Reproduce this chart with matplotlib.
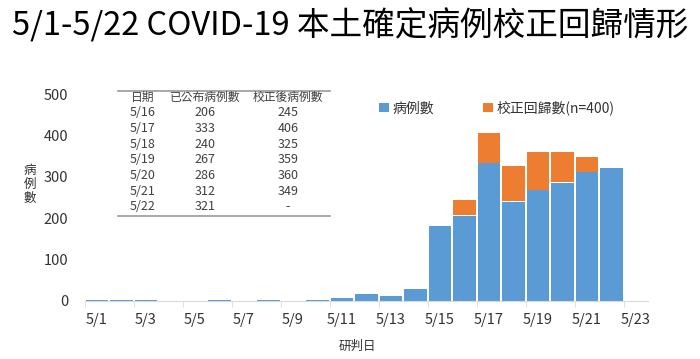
import matplotlib.pyplot as plt

plt.rcParams['font.family'] = ['Noto Sans CJK TC', 'DejaVu Sans']

# categories: 5/1 .. 5/23 (5/23 has no data)
days = ['5/%d' % d for d in range(1, 24)]
cases = [3, 3, 3, 0, 0, 3, 0, 3, 0, 2, 7, 17, 12, 29,
         180, 206, 333, 240, 267, 286, 312, 321]
backlog = [0, 0, 0, 0, 0, 0, 0, 0, 0, 0, 0, 0, 0, 0,
           0, 39, 73, 85, 92, 74, 37, 0]

tbl_header = ['日期', '已公布病例數', '校正後病例數']
tbl_dates = ['5/16', '5/17', '5/18', '5/19', '5/20', '5/21', '5/22']
tbl_published = ['206', '333', '240', '267', '286', '312', '321']
tbl_corrected = ['245', '406', '325', '359', '360', '349', '-']

BLUE = '#5b9bd5'
ORANGE = '#ed7d31'
GREY = '#404040'


def plot_chart():
    fig = plt.figure(figsize=(7, 3.59), dpi=100)
    ax = fig.add_axes([0.121, 0.1616, 0.805, 0.5764])

    x = list(range(len(cases)))
    lb = ax.bar(x, cases, width=0.92, color=BLUE, linewidth=0)
    lo = ax.bar(x, backlog, width=0.92, bottom=cases, color=ORANGE, linewidth=0)
    # thin white seam between stacked parts
    ax.bar(x, [0.8 if b else 0 for b in backlog], width=0.92, bottom=cases,
           color='white', linewidth=0)

    ax.set_xlim(-0.5, len(days) - 0.5)
    ax.set_ylim(0, 500)
    ax.set_yticks([0, 100, 200, 300, 400, 500])
    ax.tick_params(axis='y', length=0, labelsize=10.5, labelcolor='#333333', pad=12)

    ax.set_xticks(range(0, len(days), 2))
    ax.set_xticklabels(days[::2])
    ax.set_xticks([i - 0.5 for i in range(0, len(days), 2)], minor=True)
    ax.tick_params(axis='x', which='major', length=0, labelsize=10.5,
                   labelcolor='#333333', pad=9)
    ax.tick_params(axis='x', which='minor', length=4, color='#d9d9d9')

    for s in ['top', 'right', 'left']:
        ax.spines[s].set_visible(False)
    ax.spines['bottom'].set_color('#d9d9d9')

    ax.legend([lb, lo], ['病例數', '校正回歸數(n=400)'], loc='upper left',
              bbox_to_anchor=(0.5, 1.03), ncol=2, frameon=False, fontsize=10,
              handlelength=0.7, handleheight=0.7, handletextpad=0.3,
              columnspacing=3.5, labelcolor='#333333')

    fig.text(0.5, 0.93, '5/1-5/22 COVID-19 本土確定病例校正回歸情形',
             ha='center', va='center', fontsize=23.5, color='black')
    fig.text(0.043, 0.485, '病\n例\n數', ha='center', va='center', fontsize=9,
             color='#333333', linespacing=1.1)
    fig.text(0.51, 0.035, '研判日', ha='center', va='center', fontsize=9,
             color='#333333')

    # inset table
    W, H = 700.0, 359.0
    cols = [143, 205, 288]
    rows = [97 + 15.7 * i for i in range(8)]
    for cx, t in zip(cols, tbl_header):
        fig.text(cx / W, 1 - rows[0] / H, t, ha='center', va='center',
                 fontsize=8.5, color=GREY)
    for i in range(len(tbl_dates)):
        y = 1 - rows[i + 1] / H
        for cx, t in zip(cols, [tbl_dates[i], tbl_published[i], tbl_corrected[i]]):
            fig.text(cx / W, y, t, ha='center', va='center', fontsize=9,
                     color=GREY)
    for ly in [91, 216]:
        fig.add_artist(plt.Line2D([118 / W, 330 / W], [1 - ly / H, 1 - ly / H],
                                  color='#999999', linewidth=1.2))

    fig.savefig('out.png', dpi=100)


def main():
    plot_chart()


if __name__ == '__main__':
    main()
